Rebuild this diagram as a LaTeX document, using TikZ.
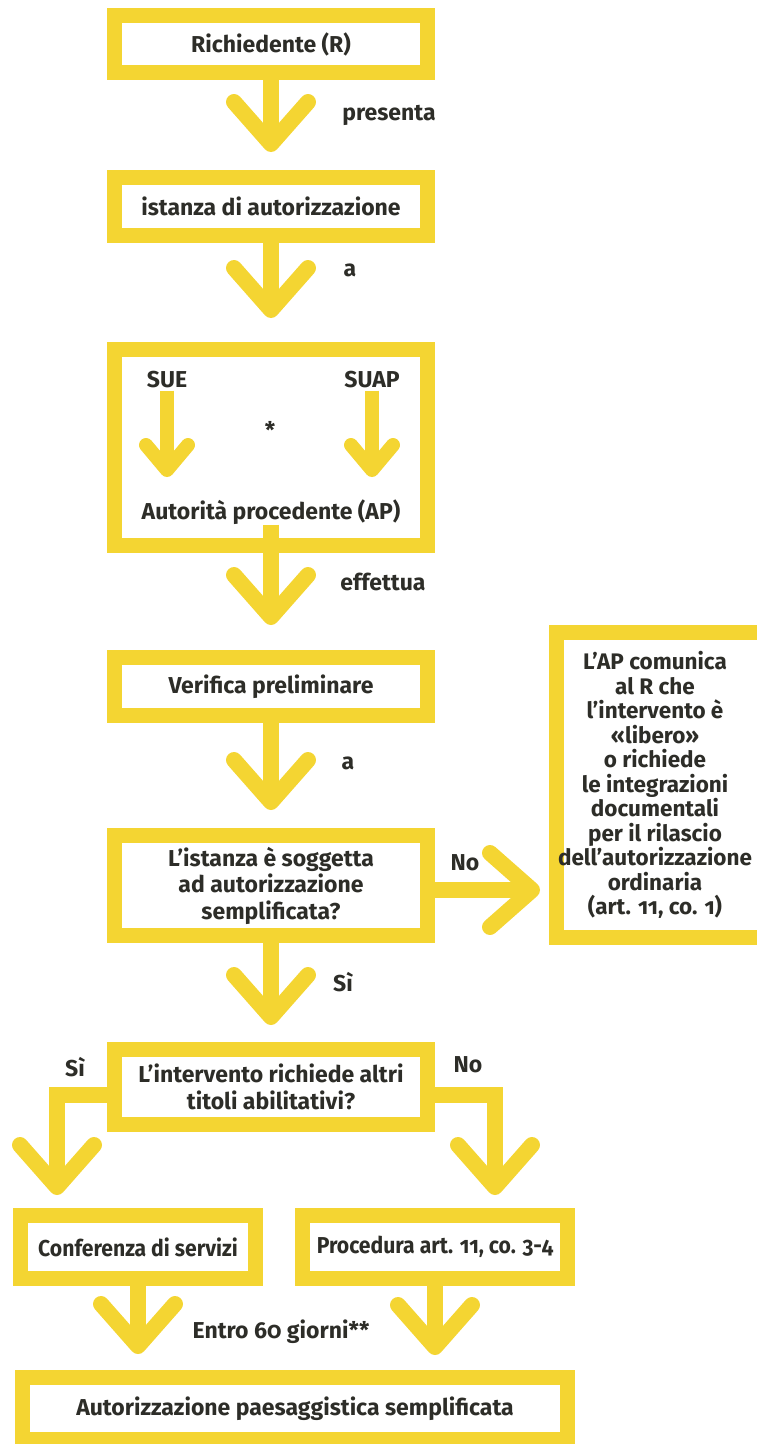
\documentclass[tikz,border=0pt]{standalone}
\usepackage{fontspec}
\setmainfont{Fira Sans}[Numbers=OldStyle]
\usepackage{graphicx}
\definecolor{ylw}{RGB}{244,213,50}
\definecolor{ink}{RGB}{45,45,40}
\begin{document}
\begin{tikzpicture}[x=1pt,y=-1pt,
  box/.style={draw=ylw,line width=15pt,fill=white,inner sep=0pt,align=center,
    text=ink,font=\bfseries\fontsize{23}{26.5}\selectfont},
  lbl/.style={inner sep=0pt,text=ink,font=\bfseries\fontsize{23}{26}\selectfont},
  stem/.style={draw=ylw,line width=16pt,line cap=butt,line join=miter},
  chevdown/.pic={\draw[ylw,line width=16pt,line cap=round,line join=round] (-37,-42) -- (0,0) -- (37,-42);},
  chevsmall/.pic={\draw[ylw,line width=14pt,line cap=round,line join=round] (-21,-25) -- (0,0) -- (21,-25);},
  chevright/.pic={\draw[ylw,line width=16pt,line cap=round,line join=round] (-42,-37) -- (0,0) -- (-42,37);}
]
\useasboundingbox (0,0) rectangle (757,1444);
\clip (0,0) rectangle (757,1444);

% boxes
\node[box,minimum width=313pt,minimum height=57pt] (b1) at (271,44) {Richiedente (R)};
\node[box,minimum width=313pt,minimum height=58pt] (b2) at (271,206.5) {istanza di autorizzazione};
\node[box,minimum width=313pt,minimum height=196pt] (b3) at (271,447.5) {};
\node[box,minimum width=313pt,minimum height=58pt] (b4) at (271,686.5) {Verifica preliminare};
\node[box,minimum width=313pt,minimum height=100pt] (b5) at (271,885.5) {L’istanza è soggetta\\ad autorizzazione\\semplificata?};
\node[box,minimum width=216pt,minimum height=305pt] (rb) at (664,785) {};
\node[lbl,align=center,font=\bfseries\fontsize{22.5}{24.5}\selectfont] (rbt) at (655,785) {L’AP comunica\\al R che\\l’intervento è\\«libero»\\o richiede\\le integrazioni\\documentali\\per il rilascio\\dell’autorizzazione\\ordinaria\\(art. 11, co. 1)};
\node[box,minimum width=313pt,minimum height=75pt] (b6) at (271,1087) {L’intervento richiede altri\\titoli abilitativi?};
\node[box,minimum width=235pt,minimum height=63pt] (cs) at (138,1247) {\scalebox{0.92}[1]{Conferenza di servizi}};
\node[box,minimum width=265pt,minimum height=63pt] (pr) at (435,1247) {\scalebox{0.92}[1]{Procedura art. 11, co. 3-4}};
\node[box,minimum width=545pt,minimum height=62pt] (bf) at (295,1408.5) {Autorizzazione paesaggistica semplificata};

% contents of box 3
\node[lbl] (sue) at (167,380) {SUE};
\node[lbl] (suap) at (372,380) {SUAP};
\node[lbl] (star) at (270,430) {*};
\node[lbl] (ap) at (271,512) {Autorità procedente (AP)};

% tip coordinates
\coordinate (t1) at (271,144);
\coordinate (t2) at (271,310);
\coordinate (t3) at (271,617);
\coordinate (t4) at (271,802);
\coordinate (t5) at (271,1017);
\coordinate (t5r) at (532,890);
\coordinate (t6l) at (57,1187);
\coordinate (t6r) at (495,1187);
\coordinate (tc) at (138,1346);
\coordinate (tp) at (435,1347);
\coordinate (tsue) at (167,470);
\coordinate (tsuap) at (372,470);

% connectors
\draw[stem] (b1.south) -- (t1); \pic at (t1) {chevdown};
\draw[stem] (b2.south) -- (t2); \pic at (t2) {chevdown};
\draw[stem,line width=14pt] ([yshift=-2pt]sue.south) -- (tsue); \pic at (tsue) {chevsmall};
\draw[stem,line width=14pt] ([yshift=-2pt]suap.south) -- (tsuap); \pic at (tsuap) {chevsmall};
\draw[stem] (ap.south) -- (t3); \pic at (t3) {chevdown};
\draw[stem] (b4.south) -- (t4); \pic at (t4) {chevdown};
\draw[stem] ([yshift=-4.5pt]b5.east) -- (t5r); \pic at (t5r) {chevright};
\draw[stem] (b5.south) -- (t5); \pic at (t5) {chevdown};
\draw[stem] ([yshift=-8pt]b6.west) -| (t6l); \pic at (t6l) {chevdown};
\draw[stem] ([yshift=-8pt]b6.east) -| (t6r); \pic at (t6r) {chevdown};
\draw[stem] (cs.south) -- (tc); \pic at (tc) {chevdown};
\draw[stem] (pr.south) -- (tp); \pic at (tp) {chevdown};

% labels
\node[lbl] (l1) at (389,115) {presenta};
\node[lbl] (l2) at (350,270) {a};
\node[lbl] (l3) at (383,582) {effettua};
\node[lbl] (l4) at (348,763) {a};
\node[lbl] (l5) at (465,863) {No};
\node[lbl] (l6) at (343,982) {Sì};
\node[lbl] (l7) at (75,1067) {Sì};
\node[lbl] (l8) at (468,1065) {No};
\node[lbl] (l9) at (281,1332) {Entro 60 giorni**};
\end{tikzpicture}
\end{document}
